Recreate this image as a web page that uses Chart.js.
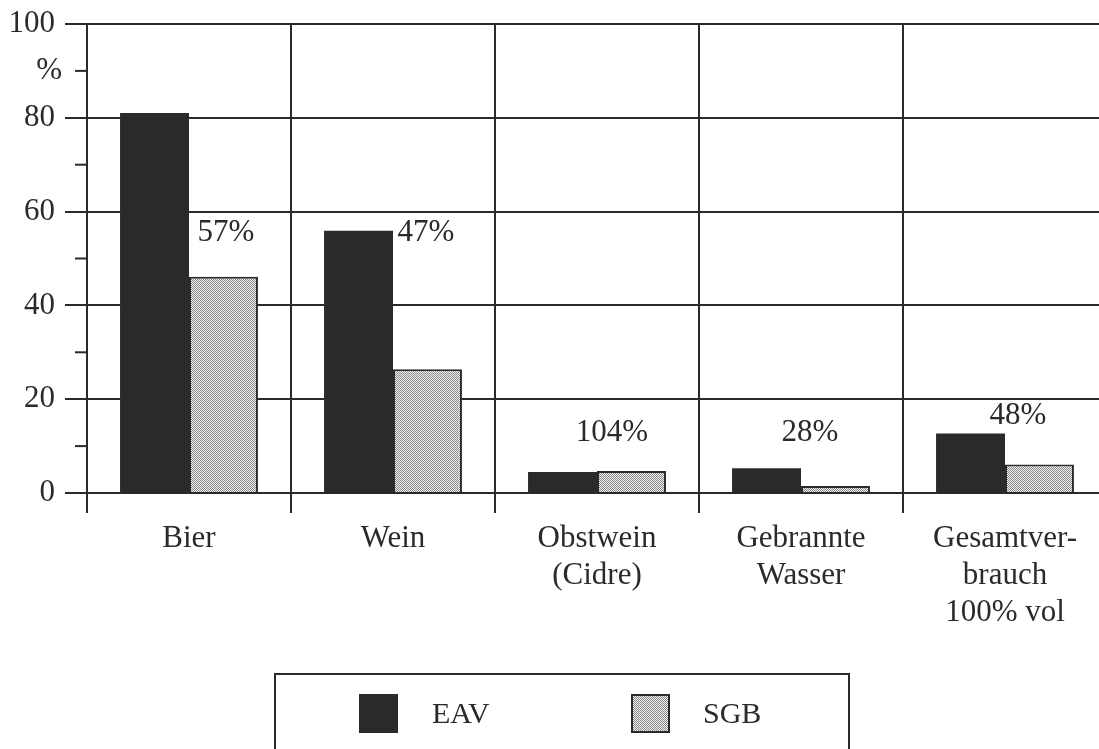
<!DOCTYPE html>
<html lang="de">
<head>
    <meta charset="UTF-8">
    <title>Alkoholverbrauch EAV / SGB</title>
    <style>
        html, body { margin: 0; padding: 0; background: #fff; overflow: hidden; }
        #wrap { width: 1113px; height: 749px; position: relative; }
    </style>
    <script src="https://cdn.jsdelivr.net/npm/chart.js"></script>
</head>
<body>
    <div id="wrap">
        <canvas id="alcChart"></canvas>
    </div>

    <script>
        // Data
        const categories = [
            'Bier',
            'Wein',
            ['Obstwein', '(Cidre)'],
            ['Gebrannte', 'Wasser'],
            ['Gesamtver-', 'brauch', '100% vol']
        ];
        const eavValues = [81.0, 55.9, 4.5, 5.3, 12.7];
        const sgbValues = [46.1, 26.4, 4.7, 1.5, 6.1];
        const ratioLabels = ['57%', '47%', '104%', '28%', '48%'];
        const seriesNames = ['EAV', 'SGB'];
        const yTickMajor = [0, 20, 40, 60, 80, 100];

        const ink = '#2a2a2a';
        const font = '"Liberation Serif", "Times New Roman", serif';

        // fine dotted grey fill for SGB
        function makeDots() {
            const c = document.createElement('canvas');
            c.width = 2; c.height = 2;
            const g = c.getContext('2d');
            g.fillStyle = '#f0f0f0';
            g.fillRect(0, 0, 2, 2);
            g.fillStyle = '#8a8a8a';
            g.fillRect(0, 0, 1, 1);
            g.fillRect(1, 1, 1, 1);
            return g.createPattern(c, 'repeat');
        }
        const dots = makeDots();

        // label placement: shift from category centre (px), height in axis units
        const ratioShift = [37, 33, 15, 9, 13];
        const ratioLevel = [55.4, 55.4, 12.8, 12.8, 16.4];

        const extras = {
            id: 'extras',
            afterDraw(chart) {
                const { ctx, chartArea } = chart;
                const x = chart.scales.x, y = chart.scales.y;
                ctx.save();

                // short minor ticks
                ctx.strokeStyle = ink;
                ctx.lineWidth = 2;
                y.ticks.forEach(t => {
                    if (yTickMajor.includes(t.value)) return;
                    const py = y.getPixelForValue(t.value);
                    ctx.beginPath();
                    ctx.moveTo(chartArea.left - 12, py);
                    ctx.lineTo(chartArea.left, py);
                    ctx.stroke();
                });

                ctx.fillStyle = ink;
                ctx.font = '31px ' + font;
                ctx.textBaseline = 'middle';

                // unit sign in place of the 90 label
                ctx.textAlign = 'right';
                ctx.fillText('%', chartArea.left - 25, y.getPixelForValue(90));

                // SGB/EAV ratios
                ctx.textAlign = 'center';
                ratioLabels.forEach((txt, i) => {
                    ctx.fillText(txt, x.getPixelForValue(i) + ratioShift[i], y.getPixelForValue(ratioLevel[i]));
                });

                // boxed legend
                ctx.lineWidth = 2;
                ctx.strokeStyle = ink;
                ctx.strokeRect(275, 674, 574, 120);
                const items = [
                    { sx: 360, tx: 432, fill: ink },
                    { sx: 632, tx: 703, fill: dots }
                ];
                ctx.font = '30px ' + font;
                ctx.textAlign = 'left';
                items.forEach((it, i) => {
                    ctx.fillStyle = it.fill;
                    ctx.fillRect(it.sx, 695, 37, 37);
                    ctx.strokeStyle = ink;
                    ctx.strokeRect(it.sx, 695, 37, 37);
                    ctx.fillStyle = ink;
                    ctx.fillText(seriesNames[i], it.tx, 715);
                });
                ctx.restore();
            }
        };

        const ctx = document.getElementById('alcChart').getContext('2d');
        new Chart(ctx, {
            type: 'bar',
            data: {
                labels: categories,
                datasets: [
                    {
                        label: seriesNames[0],
                        data: eavValues,
                        backgroundColor: ink,
                        borderWidth: 0,
                        barPercentage: 1,
                        categoryPercentage: 0.676
                    },
                    {
                        label: seriesNames[1],
                        data: sgbValues,
                        backgroundColor: dots,
                        borderColor: ink,
                        borderWidth: 2,
                        barPercentage: 1,
                        categoryPercentage: 0.676
                    }
                ]
            },
            options: {
                responsive: true,
                maintainAspectRatio: false,
                animation: false,
                layout: { padding: { top: 24, right: 6, bottom: 116, left: 0 } },
                plugins: {
                    legend: { display: false },
                    tooltip: { enabled: false }
                },
                scales: {
                    x: {
                        afterFit: s => { s.height = 140; },
                        grid: {
                            offset: true,
                            color: ink,
                            lineWidth: 2,
                            tickLength: 20,
                            tickColor: ink
                        },
                        border: { color: ink, width: 2 },
                        ticks: {
                            color: ink,
                            padding: 8,
                            maxRotation: 0,
                            autoSkip: false,
                            font: { family: font, size: 31, lineHeight: 1.18 }
                        }
                    },
                    y: {
                        min: 0,
                        max: 100,
                        afterFit: s => { s.width = 87; s.paddingTop = 0; s.paddingBottom = 0; },
                        grid: {
                            color: c => yTickMajor.includes(c.tick.value) ? ink : 'rgba(0,0,0,0)',
                            tickColor: c => yTickMajor.includes(c.tick.value) ? ink : 'rgba(0,0,0,0)',
                            lineWidth: 2,
                            tickLength: 22
                        },
                        border: { color: ink, width: 2 },
                        ticks: {
                            stepSize: 10,
                            color: ink,
                            padding: 10,
                            font: { family: font, size: 31, lineHeight: 1.2 },
                            callback: v => yTickMajor.includes(v) ? String(v) : ''
                        }
                    }
                }
            },
            plugins: [extras]
        });
    </script>
</body>
</html>
